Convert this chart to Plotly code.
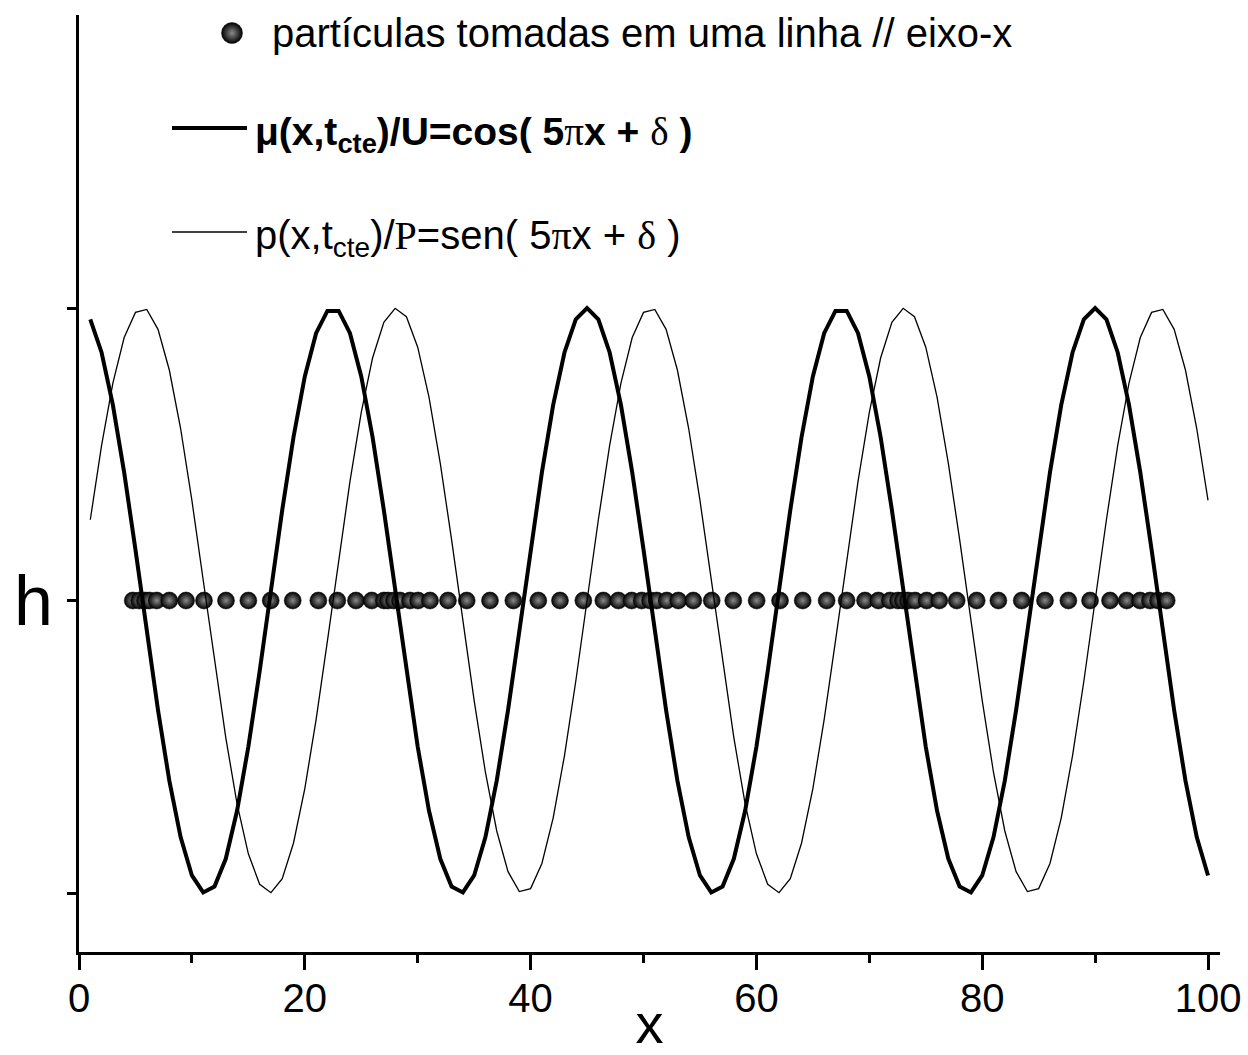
import plotly.graph_objects as go

# ---------------- data ----------------
x_samples = list(range(1, 101))

mu_values = [
    0.961, 0.848, 0.669, 0.438, 0.174, -0.105, -0.375, -0.616, -0.809, -0.940,
    -0.998, -0.978, -0.883, -0.719, -0.500, -0.242, 0.035, 0.309, 0.559, 0.766,
    0.914, 0.990, 0.990, 0.914, 0.766, 0.559, 0.309, 0.035, -0.242, -0.500,
    -0.719, -0.883, -0.978, -0.998, -0.940, -0.809, -0.616, -0.375, -0.105, 0.174,
    0.438, 0.669, 0.848, 0.961, 1.000, 0.961, 0.848, 0.669, 0.438, 0.174,
    -0.105, -0.375, -0.616, -0.809, -0.940, -0.998, -0.978, -0.883, -0.719, -0.500,
    -0.242, 0.035, 0.309, 0.559, 0.766, 0.914, 0.990, 0.990, 0.914, 0.766,
    0.559, 0.309, 0.035, -0.242, -0.500, -0.719, -0.883, -0.978, -0.998, -0.940,
    -0.809, -0.616, -0.375, -0.105, 0.174, 0.438, 0.669, 0.848, 0.961, 1.000,
    0.961, 0.848, 0.669, 0.438, 0.174, -0.105, -0.375, -0.616, -0.809, -0.940,
]

p_values = [
    0.276, 0.530, 0.743, 0.899, 0.985, 0.995, 0.927, 0.788, 0.588, 0.342,
    0.070, -0.208, -0.469, -0.695, -0.866, -0.970, -0.999, -0.951, -0.829, -0.643,
    -0.407, -0.139, 0.139, 0.407, 0.643, 0.829, 0.951, 0.999, 0.970, 0.866,
    0.695, 0.469, 0.208, -0.070, -0.342, -0.588, -0.788, -0.927, -0.995, -0.985,
    -0.899, -0.743, -0.530, -0.276, 0.000, 0.276, 0.530, 0.743, 0.899, 0.985,
    0.995, 0.927, 0.788, 0.588, 0.342, 0.070, -0.208, -0.469, -0.695, -0.866,
    -0.970, -0.999, -0.951, -0.829, -0.643, -0.407, -0.139, 0.139, 0.407, 0.643,
    0.829, 0.951, 0.999, 0.970, 0.866, 0.695, 0.469, 0.208, -0.070, -0.342,
    -0.588, -0.788, -0.927, -0.995, -0.985, -0.899, -0.743, -0.530, -0.276, 0.000,
    0.276, 0.530, 0.743, 0.899, 0.985, 0.995, 0.927, 0.788, 0.588, 0.342,
]

particle_x = [
    4.76, 5.34, 5.85, 6.23, 6.88, 8.00, 9.48, 11.07, 13.02, 15.00,
    16.98, 18.93, 21.20, 22.88, 24.53, 25.93, 27.01, 27.37, 27.90, 28.43,
    29.32, 30.03, 31.09, 32.68, 34.34, 36.40, 38.47, 40.68, 42.60, 44.67,
    46.44, 47.77, 48.95, 49.84, 50.58, 51.17, 52.06, 53.08, 54.41, 56.04,
    57.95, 60.02, 62.09, 64.10, 66.22, 67.99, 69.62, 70.80, 71.83, 72.54,
    72.98, 73.43, 74.05, 75.08, 76.20, 77.74, 79.51, 81.43, 83.50, 85.56,
    87.63, 89.55, 91.32, 92.80, 93.98, 94.86, 95.57, 96.34,
]
particle_y = [0.0] * len(particle_x)  # all particles lie on the line h

x_tick_vals = [0, 20, 40, 60, 80, 100]
x_tick_labels = ["0", "20", "40", "60", "80", "100"]
x_minor_ticks = [10, 30, 50, 70, 90]
y_tick_vals = [0]
y_tick_labels = ["h"]
y_unlabeled_ticks = [-1, 1]

legend_particles = "partículas tomadas em uma linha // eixo-x"
SERIF = "'Liberation Serif', 'Times New Roman', serif"
legend_mu = ("<b>μ(x,t<sub>cte</sub>)/U=cos( 5</b><span style=\"font-family:%s\">π</span>"
             "<b>x + </b><span style=\"font-family:%s\">δ</span><b> )</b>") % (SERIF, SERIF)
legend_p = ("p(x,t<sub>cte</sub>)/<span style=\"font-family:%s\">P</span>=sen( 5"
            "<span style=\"font-family:%s\">π</span>x + "
            "<span style=\"font-family:%s\">δ</span> )") % (SERIF, SERIF, SERIF)

SANS = "'Liberation Sans', Arial, sans-serif"

# ---------------- figure ----------------
fig = go.Figure()

fig.add_trace(go.Scatter(
    x=particle_x, y=particle_y, mode="markers",
    marker=dict(size=17, color="#000000",
                gradient=dict(type="radial", color="#8a8a8a"),
                line=dict(width=0.5, color="#000000")),
    showlegend=False, cliponaxis=False))

fig.add_trace(go.Scatter(
    x=x_samples, y=mu_values, mode="lines",
    line=dict(color="black", width=4), showlegend=False))

fig.add_trace(go.Scatter(
    x=x_samples, y=p_values, mode="lines",
    line=dict(color="black", width=1.3), showlegend=False))

# legend drawn on a pixel-coordinate overlay axis
fig.add_trace(go.Scatter(
    x=[232], y=[33], xaxis="x2", yaxis="y2", mode="markers",
    marker=dict(size=21, color="#000000",
                gradient=dict(type="radial", color="#8a8a8a"),
                line=dict(width=0.5, color="#000000")),
    showlegend=False, cliponaxis=False))
fig.add_trace(go.Scatter(
    x=[172, 247], y=[128, 128], xaxis="x2", yaxis="y2", mode="lines",
    line=dict(color="black", width=4), showlegend=False, cliponaxis=False))
fig.add_trace(go.Scatter(
    x=[172, 247], y=[232, 232], xaxis="x2", yaxis="y2", mode="lines",
    line=dict(color="black", width=1.3), showlegend=False, cliponaxis=False))

annotations = [
    dict(x=270, y=33, xref="x2", yref="y2", text=legend_particles,
         xanchor="left", yanchor="middle", showarrow=False,
         font=dict(family=SANS, size=40, color="black")),
    dict(x=253, y=134, xref="x2", yref="y2", text=legend_mu,
         xanchor="left", yanchor="middle", showarrow=False,
         font=dict(family=SANS, size=39, color="black")),
    dict(x=253, y=238, xref="x2", yref="y2", text=legend_p,
         xanchor="left", yanchor="middle", showarrow=False,
         font=dict(family=SANS, size=40, color="black")),
]

fig.update_layout(
    width=1248, height=1055,
    margin=dict(l=79, r=28, t=15, b=103),
    paper_bgcolor="white", plot_bgcolor="white",
    font=dict(family=SANS, color="black"),
    showlegend=False,
    annotations=annotations,
    xaxis=dict(
        range=[0, 101.06], showgrid=False, zeroline=False, automargin=False,
        showline=True, linewidth=3, linecolor="black",
        ticks="outside", ticklen=15, tickwidth=3, tickcolor="black",
        tickvals=x_tick_vals, ticktext=x_tick_labels,
        tickfont=dict(family=SANS, size=40, color="black"),
        ticklabelstandoff=-6,
        minor=dict(tickvals=x_minor_ticks, ticks="outside",
                   ticklen=8, tickwidth=3, tickcolor="black"),
        title=dict(text="x", font=dict(family=SANS, size=56, color="black"), standoff=0),
    ),
    yaxis=dict(
        range=[-1.2017, 2.0017], showgrid=False, zeroline=False, automargin=False,
        showline=True, linewidth=3, linecolor="black",
        ticks="outside", ticklen=9, tickwidth=3, tickcolor="black",
        tickvals=y_tick_vals, ticktext=y_tick_labels,
        tickfont=dict(family=SANS, size=70, color="black"),
        minor=dict(tickvals=y_unlabeled_ticks, ticks="outside",
                   ticklen=9, tickwidth=3, tickcolor="black"),
    ),
    xaxis2=dict(overlaying="x", range=[79, 1220], visible=False, anchor="y2"),
    yaxis2=dict(overlaying="y", range=[952, 15], visible=False, anchor="x2"),
)

fig.write_html("out.html")
